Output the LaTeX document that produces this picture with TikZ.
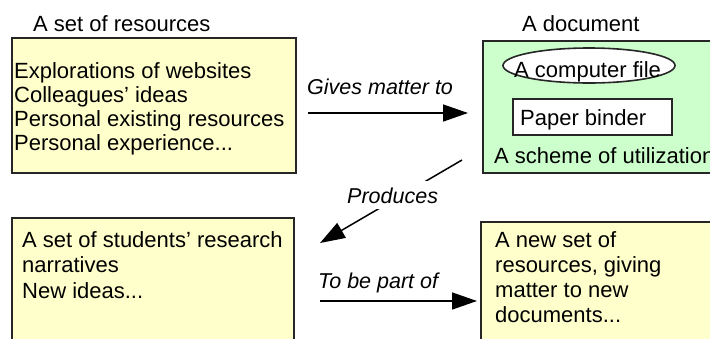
\documentclass[tikz,border=0pt]{standalone}
\usepackage{fontspec}
\setmainfont{Liberation Sans}
\usetikzlibrary{arrows.meta,shapes.geometric}
\definecolor{paleyellow}{RGB}{255,255,204}
\definecolor{palegreen}{RGB}{204,255,204}
\begin{document}
\begin{tikzpicture}[x=1pt,y=-1pt,
  every node/.style={font=\fontsize{22}{24.5}\selectfont, inner sep=0pt},
  box/.style={draw=black!85, line width=1.6pt, rectangle, inner sep=0pt, anchor=north west},
  ybox/.style={box, fill=paleyellow},
  gbox/.style={box, fill=palegreen},
  txt/.style={anchor=base west, align=left},
  lbl/.style={anchor=base west, font=\fontsize{21.5}{24.5}\selectfont\itshape},
  conn/.style={line width=1.5pt, -{Triangle[length=25pt,width=17pt]}}]
\useasboundingbox (0,0) rectangle (710,338);
\clip (0,0) rectangle (710,338);

% boxes
\node[ybox, minimum width=284pt, minimum height=135pt] (res) at (11,37) {};
\node[gbox, minimum width=260pt, minimum height=132pt] (doc) at (482,40) {};
\node[ybox, minimum width=282pt, minimum height=150pt] (narr) at (11,217) {};
\node[ybox, minimum width=260pt, minimum height=150pt] (newres) at (480,221) {};

% titles
\node[txt] (restitle) at (33,31) {A set of resources};
\node[txt] (doctitle) at (522,31) {A document};

% texts in boxes (base = baseline of last line)
\node[txt, font=\fontsize{22}{24}\selectfont] (restext) at (14,150) {Explorations of websites\\Colleagues’ ideas\\Personal existing resources\\Personal experience...};
\node[txt, font=\fontsize{22}{25.5}\selectfont] (narrtext) at (22,298) {A set of students’ research\\narratives\\New ideas...};
\node[txt, font=\fontsize{22}{25}\selectfont] (newtext) at (495,322) {A new set of\\resources, giving\\matter to new\\documents...};

% inside document
\node[ellipse, draw=black!85, fill=white, line width=1.6pt, minimum width=172pt, minimum height=35pt] (file) at (589,65.5) {};
\node[txt] (filetext) at (514,77) {A computer file};
\node[draw=black!85, fill=white, line width=1.6pt, minimum width=159pt, minimum height=36pt] (binder) at (592.5,117) {};
\node[txt] (bindertext) at (520,125) {Paper binder};
\node[txt] (scheme) at (494,163) {A scheme of utilization};

% connectors
\coordinate (a1s) at (308,113);
\coordinate (a1e) at (468,113);
\draw[conn] (a1s) -- (a1e);
\node[lbl] (gives) at (307,94) {Gives matter to};

\coordinate (a2s) at (462,160);
\coordinate (a2e) at (320,243);
\draw[conn] (a2s) -- (a2e);
\node[lbl, fill=white, inner xsep=2pt, inner ysep=6pt] (produces) at (345,203) {Produces};

\coordinate (a3s) at (320,301);
\coordinate (a3e) at (477,301);
\draw[conn] (a3s) -- (a3e);
\node[lbl] (partof) at (318,288) {To be part of};
\end{tikzpicture}
\end{document}
